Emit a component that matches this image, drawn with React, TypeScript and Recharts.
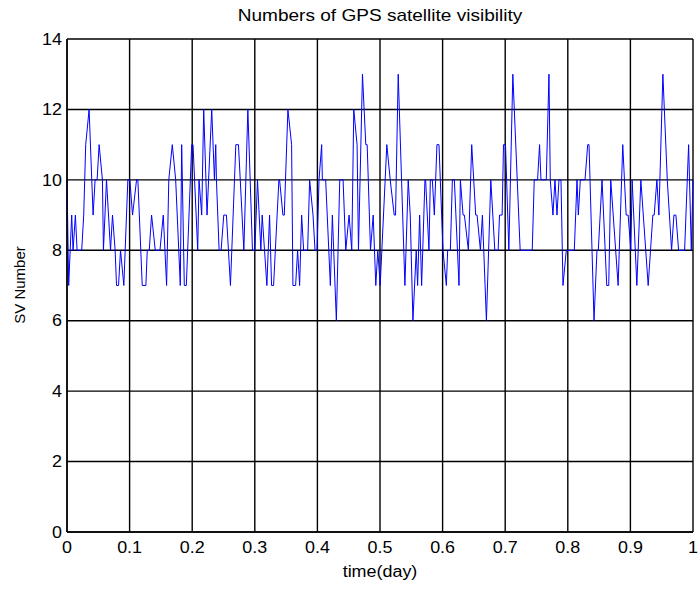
import { LineChart, Line, XAxis, YAxis, CartesianGrid } from 'recharts';

// observation time (fraction of a day) and number of visible GPS satellites
const dayTime = [
  0.0000, 0.0027, 0.0075, 0.0097, 0.0134, 0.0161, 0.0235, 0.0267, 0.0299, 0.0353,
  0.0417, 0.0449, 0.0481, 0.0513, 0.0566, 0.0582, 0.0631, 0.0695, 0.0727, 0.0769,
  0.0791, 0.0823, 0.0855, 0.0908, 0.0972, 0.1004, 0.1047, 0.1111, 0.1132, 0.1202,
  0.1260, 0.1282, 0.1314, 0.1351, 0.1410, 0.1485, 0.1538, 0.1591, 0.1626, 0.1682,
  0.1736, 0.1810, 0.1832, 0.1874, 0.1906, 0.1992, 0.2013, 0.2088, 0.2109, 0.2152,
  0.2184, 0.2237, 0.2312, 0.2355, 0.2376, 0.2387, 0.2430, 0.2462, 0.2504, 0.2547,
  0.2611, 0.2697, 0.2739, 0.2825, 0.2889, 0.2963, 0.3001, 0.3043, 0.3097, 0.3118,
  0.3193, 0.3236, 0.3268, 0.3300, 0.3385, 0.3396, 0.3449, 0.3471, 0.3529, 0.3588,
  0.3609, 0.3652, 0.3684, 0.3716, 0.3748, 0.3780, 0.3844, 0.3876, 0.3930, 0.3962,
  0.3994, 0.4026, 0.4068, 0.4079, 0.4132, 0.4207, 0.4239, 0.4303, 0.4357, 0.4410,
  0.4453, 0.4506, 0.4549, 0.4581, 0.4634, 0.4656, 0.4720, 0.4773, 0.4795, 0.4848,
  0.4891, 0.4933, 0.4965, 0.5003, 0.5109, 0.5163, 0.5227, 0.5248, 0.5291, 0.5398,
  0.5451, 0.5483, 0.5526, 0.5579, 0.5601, 0.5633, 0.5665, 0.5718, 0.5729, 0.5782,
  0.5804, 0.5836, 0.5868, 0.5910, 0.5942, 0.6006, 0.6060, 0.6081, 0.6124, 0.6156,
  0.6188, 0.6262, 0.6284, 0.6327, 0.6348, 0.6412, 0.6465, 0.6529, 0.6551, 0.6604,
  0.6636, 0.6700, 0.6770, 0.6834, 0.6887, 0.6909, 0.6951, 0.6973, 0.7005, 0.7058,
  0.7122, 0.7239, 0.7432, 0.7464, 0.7517, 0.7549, 0.7571, 0.7656, 0.7699, 0.7720,
  0.7763, 0.7795, 0.7827, 0.7859, 0.7891, 0.7923, 0.7976, 0.8104, 0.8147, 0.8168,
  0.8200, 0.8275, 0.8318, 0.8339, 0.8419, 0.8466, 0.8487, 0.8547, 0.8622, 0.8654,
  0.8686, 0.8804, 0.8878, 0.8932, 0.8964, 0.9007, 0.9028, 0.9103, 0.9167, 0.9284,
  0.9359, 0.9380, 0.9423, 0.9455, 0.9519, 0.9589, 0.9658, 0.9695, 0.9727, 0.9770,
  0.9866, 0.9930, 0.9973, 1.0000,
];

const svCount = [
  10, 7, 9, 8, 9, 8, 8, 9, 11, 12,
  9, 10, 10, 11, 10, 8, 10, 8, 9, 8,
  7, 7, 8, 7, 10, 10, 9, 10, 10, 7,
  7, 8, 8, 9, 8, 8, 9, 7, 10, 11,
  10, 7, 11, 7, 7, 11, 11, 8, 10, 9,
  12, 9, 12, 10, 11, 10, 8, 8, 9, 9,
  7, 11, 11, 8, 12, 8, 8, 10, 8, 9,
  7, 9, 7, 7, 10, 10, 9, 9, 12, 11,
  7, 7, 8, 7, 9, 8, 8, 10, 9, 8,
  8, 10, 11, 10, 10, 7, 9, 6, 10, 10,
  8, 9, 8, 12, 11, 8, 13, 11, 11, 8,
  9, 7, 8, 7, 11, 10, 9, 9, 13, 7,
  10, 9, 6, 8, 7, 9, 7, 10, 10, 8,
  10, 10, 9, 11, 11, 8, 7, 8, 8, 10,
  10, 7, 10, 9, 9, 8, 11, 9, 9, 8,
  9, 6, 10, 8, 8, 9, 9, 11, 11, 8,
  13, 8, 8, 10, 10, 11, 10, 10, 13, 10,
  9, 10, 9, 10, 10, 7, 8, 8, 10, 9,
  10, 10, 11, 11, 6, 8, 8, 10, 7, 7,
  10, 7, 11, 9, 9, 8, 10, 7, 10, 7,
  9, 9, 10, 9, 13, 10, 8, 9, 9, 8,
  8, 11, 8, 10,
];

const xTicks = [0, 0.1, 0.2, 0.3, 0.4, 0.5, 0.6, 0.7, 0.8, 0.9, 1];
const yTicks = [0, 2, 4, 6, 8, 10, 12, 14];

const FONT = '"Liberation Sans", Arial, sans-serif';
// the figure's text is slightly wider than the plain font
const STRETCH = 1.12;

function XTick({ x, y, payload }: any) {
  return (
    <text
      transform={`translate(${x},${y}) scale(${STRETCH},1)`}
      textAnchor="middle"
      dy="0.71em"
      fill="#000"
      fontSize={16}
      fontFamily={FONT}
    >
      {String(payload.value)}
    </text>
  );
}

function YTick({ x, y, payload }: any) {
  return (
    <text
      transform={`translate(${x},${y}) scale(${STRETCH},1)`}
      textAnchor="end"
      dy="0.355em"
      fill="#000"
      fontSize={16}
      fontFamily={FONT}
    >
      {String(payload.value)}
    </text>
  );
}

export default function App() {
  const data = dayTime.map((t, i) => ({ t, sv: svCount[i] }));

  return (
    <div style={{ position: 'absolute', left: 0, top: 0, width: 700, height: 589, background: '#fff', fontFamily: FONT }}>
      <div
        style={{
          position: 'absolute', left: 380, top: 6, fontSize: 17, color: '#000', whiteSpace: 'nowrap',
          transform: `translateX(-50%) scaleX(${STRETCH})`,
        }}
      >
        Numbers of GPS satellite visibility
      </div>
      <div
        style={{
          position: 'absolute', left: 380, top: 563, fontSize: 16, color: '#000', whiteSpace: 'nowrap',
          transform: `translateX(-50%) scaleX(${STRETCH})`,
        }}
      >
        time(day)
      </div>
      <div
        style={{
          position: 'absolute', left: 19, top: 285, fontSize: 15, color: '#000', whiteSpace: 'nowrap',
          transform: 'translate(-50%, -50%) rotate(-90deg)',
        }}
      >
        SV Number
      </div>
      <LineChart width={700} height={589} data={data} margin={{ top: 39, right: 7, left: 27, bottom: 37 }}>
        <CartesianGrid stroke="#000" strokeWidth={1.4} />
        <XAxis
          dataKey="t"
          type="number"
          domain={[0, 1]}
          ticks={xTicks}
          tick={<XTick />}
          tickLine={false}
          tickSize={0}
          tickMargin={10}
          height={20}
          axisLine={{ stroke: '#000', strokeWidth: 1.4 }}
          interval={0}
        />
        <YAxis
          type="number"
          domain={[0, 14]}
          ticks={yTicks}
          tick={<YTick />}
          tickLine={false}
          tickSize={0}
          tickMargin={5}
          width={40}
          axisLine={{ stroke: '#000', strokeWidth: 1.4 }}
          interval={0}
        />
        <Line
          dataKey="sv"
          type="linear"
          stroke="#0000ff"
          strokeWidth={1}
          dot={false}
          isAnimationActive={false}
        />
      </LineChart>
    </div>
  );
}
